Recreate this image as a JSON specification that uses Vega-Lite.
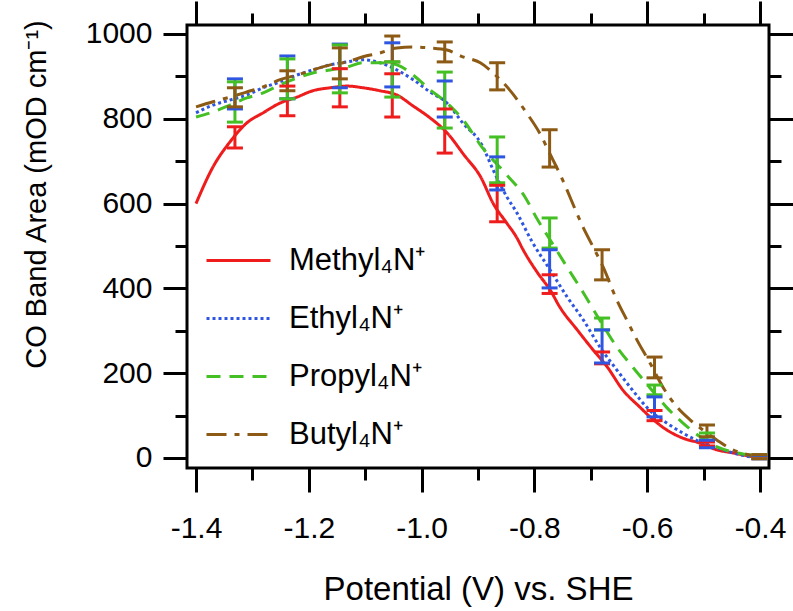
{
  "$schema": "https://vega.github.io/schema/vega-lite/v6.json",
  "width": 582,
  "height": 443,
  "autosize": "none",
  "padding": {"left": 187, "top": 25, "right": 24, "bottom": 143},
  "background": "white",
  "config": {
    "view": {"stroke": "black", "strokeWidth": 3},
    "font": "Liberation Sans",
    "axis": {"grid": false, "domain": false, "tickColor": "black", "tickWidth": 3, "labelColor": "black", "titleColor": "black", "labelFont": "Liberation Sans", "titleFont": "Liberation Sans", "titleFontWeight": "normal"}
  },
  "datasets": {
    "curves": [
      {"s": "Methyl₄N⁺", "v": -1.400, "a": 600}, {"s": "Methyl₄N⁺", "v": -1.370, "a": 686}, {"s": "Methyl₄N⁺", "v": -1.340, "a": 745}, {"s": "Methyl₄N⁺", "v": -1.310, "a": 790}, {"s": "Methyl₄N⁺", "v": -1.281, "a": 814}, {"s": "Methyl₄N⁺", "v": -1.251, "a": 837}, {"s": "Methyl₄N⁺", "v": -1.221, "a": 851}, {"s": "Methyl₄N⁺", "v": -1.193, "a": 866}, {"s": "Methyl₄N⁺", "v": -1.162, "a": 873}, {"s": "Methyl₄N⁺", "v": -1.132, "a": 877}, {"s": "Methyl₄N⁺", "v": -1.104, "a": 873}, {"s": "Methyl₄N⁺", "v": -1.074, "a": 866}, {"s": "Methyl₄N⁺", "v": -1.044, "a": 856}, {"s": "Methyl₄N⁺", "v": -1.015, "a": 830}, {"s": "Methyl₄N⁺", "v": -0.985, "a": 802}, {"s": "Methyl₄N⁺", "v": -0.955, "a": 767}, {"s": "Methyl₄N⁺", "v": -0.925, "a": 715}, {"s": "Methyl₄N⁺", "v": -0.895, "a": 662}, {"s": "Methyl₄N⁺", "v": -0.873, "a": 600}, {"s": "Methyl₄N⁺", "v": -0.849, "a": 554}, {"s": "Methyl₄N⁺", "v": -0.831, "a": 519}, {"s": "Methyl₄N⁺", "v": -0.820, "a": 491}, {"s": "Methyl₄N⁺", "v": -0.794, "a": 436}, {"s": "Methyl₄N⁺", "v": -0.772, "a": 396}, {"s": "Methyl₄N⁺", "v": -0.755, "a": 356}, {"s": "Methyl₄N⁺", "v": -0.724, "a": 302}, {"s": "Methyl₄N⁺", "v": -0.696, "a": 255}, {"s": "Methyl₄N⁺", "v": -0.671, "a": 215}, {"s": "Methyl₄N⁺", "v": -0.643, "a": 160}, {"s": "Methyl₄N⁺", "v": -0.613, "a": 120}, {"s": "Methyl₄N⁺", "v": -0.595, "a": 97}, {"s": "Methyl₄N⁺", "v": -0.565, "a": 66}, {"s": "Methyl₄N⁺", "v": -0.537, "a": 47}, {"s": "Methyl₄N⁺", "v": -0.506, "a": 35}, {"s": "Methyl₄N⁺", "v": -0.476, "a": 19}, {"s": "Methyl₄N⁺", "v": -0.448, "a": 12}, {"s": "Methyl₄N⁺", "v": -0.418, "a": 4}, {"s": "Methyl₄N⁺", "v": -0.400, "a": 0},
      {"s": "Ethyl₄N⁺", "v": -1.400, "a": 814}, {"s": "Ethyl₄N⁺", "v": -1.370, "a": 832}, {"s": "Ethyl₄N⁺", "v": -1.340, "a": 844}, {"s": "Ethyl₄N⁺", "v": -1.310, "a": 856}, {"s": "Ethyl₄N⁺", "v": -1.281, "a": 873}, {"s": "Ethyl₄N⁺", "v": -1.251, "a": 887}, {"s": "Ethyl₄N⁺", "v": -1.221, "a": 903}, {"s": "Ethyl₄N⁺", "v": -1.193, "a": 915}, {"s": "Ethyl₄N⁺", "v": -1.162, "a": 927}, {"s": "Ethyl₄N⁺", "v": -1.132, "a": 934}, {"s": "Ethyl₄N⁺", "v": -1.104, "a": 939}, {"s": "Ethyl₄N⁺", "v": -1.074, "a": 932}, {"s": "Ethyl₄N⁺", "v": -1.044, "a": 915}, {"s": "Ethyl₄N⁺", "v": -1.015, "a": 892}, {"s": "Ethyl₄N⁺", "v": -0.985, "a": 863}, {"s": "Ethyl₄N⁺", "v": -0.955, "a": 837}, {"s": "Ethyl₄N⁺", "v": -0.927, "a": 790}, {"s": "Ethyl₄N⁺", "v": -0.893, "a": 738}, {"s": "Ethyl₄N⁺", "v": -0.873, "a": 679}, {"s": "Ethyl₄N⁺", "v": -0.849, "a": 616}, {"s": "Ethyl₄N⁺", "v": -0.831, "a": 578}, {"s": "Ethyl₄N⁺", "v": -0.805, "a": 512}, {"s": "Ethyl₄N⁺", "v": -0.772, "a": 443}, {"s": "Ethyl₄N⁺", "v": -0.742, "a": 380}, {"s": "Ethyl₄N⁺", "v": -0.713, "a": 325}, {"s": "Ethyl₄N⁺", "v": -0.684, "a": 262}, {"s": "Ethyl₄N⁺", "v": -0.654, "a": 208}, {"s": "Ethyl₄N⁺", "v": -0.626, "a": 160}, {"s": "Ethyl₄N⁺", "v": -0.596, "a": 113}, {"s": "Ethyl₄N⁺", "v": -0.566, "a": 83}, {"s": "Ethyl₄N⁺", "v": -0.537, "a": 59}, {"s": "Ethyl₄N⁺", "v": -0.506, "a": 38}, {"s": "Ethyl₄N⁺", "v": -0.476, "a": 24}, {"s": "Ethyl₄N⁺", "v": -0.448, "a": 12}, {"s": "Ethyl₄N⁺", "v": -0.418, "a": 3}, {"s": "Ethyl₄N⁺", "v": -0.400, "a": 0},
      {"s": "Propyl₄N⁺", "v": -1.400, "a": 804}, {"s": "Propyl₄N⁺", "v": -1.370, "a": 816}, {"s": "Propyl₄N⁺", "v": -1.340, "a": 832}, {"s": "Propyl₄N⁺", "v": -1.310, "a": 849}, {"s": "Propyl₄N⁺", "v": -1.281, "a": 861}, {"s": "Propyl₄N⁺", "v": -1.251, "a": 880}, {"s": "Propyl₄N⁺", "v": -1.221, "a": 896}, {"s": "Propyl₄N⁺", "v": -1.193, "a": 908}, {"s": "Propyl₄N⁺", "v": -1.162, "a": 915}, {"s": "Propyl₄N⁺", "v": -1.132, "a": 922}, {"s": "Propyl₄N⁺", "v": -1.104, "a": 932}, {"s": "Propyl₄N⁺", "v": -1.074, "a": 932}, {"s": "Propyl₄N⁺", "v": -1.044, "a": 927}, {"s": "Propyl₄N⁺", "v": -1.015, "a": 903}, {"s": "Propyl₄N⁺", "v": -0.985, "a": 868}, {"s": "Propyl₄N⁺", "v": -0.955, "a": 837}, {"s": "Propyl₄N⁺", "v": -0.925, "a": 795}, {"s": "Propyl₄N⁺", "v": -0.893, "a": 733}, {"s": "Propyl₄N⁺", "v": -0.852, "a": 672}, {"s": "Propyl₄N⁺", "v": -0.817, "a": 616}, {"s": "Propyl₄N⁺", "v": -0.794, "a": 561}, {"s": "Propyl₄N⁺", "v": -0.772, "a": 514}, {"s": "Propyl₄N⁺", "v": -0.742, "a": 450}, {"s": "Propyl₄N⁺", "v": -0.713, "a": 389}, {"s": "Propyl₄N⁺", "v": -0.684, "a": 325}, {"s": "Propyl₄N⁺", "v": -0.654, "a": 262}, {"s": "Propyl₄N⁺", "v": -0.626, "a": 215}, {"s": "Propyl₄N⁺", "v": -0.596, "a": 167}, {"s": "Propyl₄N⁺", "v": -0.566, "a": 120}, {"s": "Propyl₄N⁺", "v": -0.537, "a": 83}, {"s": "Propyl₄N⁺", "v": -0.506, "a": 50}, {"s": "Propyl₄N⁺", "v": -0.476, "a": 26}, {"s": "Propyl₄N⁺", "v": -0.448, "a": 14}, {"s": "Propyl₄N⁺", "v": -0.418, "a": 7}, {"s": "Propyl₄N⁺", "v": -0.400, "a": 2},
      {"s": "Butyl₄N⁺", "v": -1.400, "a": 828}, {"s": "Butyl₄N⁺", "v": -1.370, "a": 840}, {"s": "Butyl₄N⁺", "v": -1.340, "a": 851}, {"s": "Butyl₄N⁺", "v": -1.310, "a": 863}, {"s": "Butyl₄N⁺", "v": -1.281, "a": 875}, {"s": "Butyl₄N⁺", "v": -1.251, "a": 892}, {"s": "Butyl₄N⁺", "v": -1.221, "a": 903}, {"s": "Butyl₄N⁺", "v": -1.193, "a": 915}, {"s": "Butyl₄N⁺", "v": -1.162, "a": 927}, {"s": "Butyl₄N⁺", "v": -1.132, "a": 934}, {"s": "Butyl₄N⁺", "v": -1.104, "a": 946}, {"s": "Butyl₄N⁺", "v": -1.074, "a": 955}, {"s": "Butyl₄N⁺", "v": -1.044, "a": 967}, {"s": "Butyl₄N⁺", "v": -1.015, "a": 969}, {"s": "Butyl₄N⁺", "v": -0.985, "a": 967}, {"s": "Butyl₄N⁺", "v": -0.955, "a": 962}, {"s": "Butyl₄N⁺", "v": -0.927, "a": 946}, {"s": "Butyl₄N⁺", "v": -0.896, "a": 932}, {"s": "Butyl₄N⁺", "v": -0.866, "a": 899}, {"s": "Butyl₄N⁺", "v": -0.844, "a": 868}, {"s": "Butyl₄N⁺", "v": -0.814, "a": 814}, {"s": "Butyl₄N⁺", "v": -0.791, "a": 767}, {"s": "Butyl₄N⁺", "v": -0.773, "a": 719}, {"s": "Butyl₄N⁺", "v": -0.750, "a": 656}, {"s": "Butyl₄N⁺", "v": -0.725, "a": 578}, {"s": "Butyl₄N⁺", "v": -0.714, "a": 545}, {"s": "Butyl₄N⁺", "v": -0.696, "a": 498}, {"s": "Butyl₄N⁺", "v": -0.678, "a": 450}, {"s": "Butyl₄N⁺", "v": -0.654, "a": 373}, {"s": "Butyl₄N⁺", "v": -0.636, "a": 325}, {"s": "Butyl₄N⁺", "v": -0.618, "a": 278}, {"s": "Butyl₄N⁺", "v": -0.595, "a": 224}, {"s": "Butyl₄N⁺", "v": -0.572, "a": 167}, {"s": "Butyl₄N⁺", "v": -0.547, "a": 120}, {"s": "Butyl₄N⁺", "v": -0.524, "a": 90}, {"s": "Butyl₄N⁺", "v": -0.501, "a": 66}, {"s": "Butyl₄N⁺", "v": -0.476, "a": 42}, {"s": "Butyl₄N⁺", "v": -0.448, "a": 19}, {"s": "Butyl₄N⁺", "v": -0.418, "a": 7}, {"s": "Butyl₄N⁺", "v": -0.400, "a": 2}
    ],
    "bars": [
      {"s": "Methyl₄N⁺", "v": -1.331, "lo": 731, "hi": 781}, {"s": "Methyl₄N⁺", "v": -1.238, "lo": 807, "hi": 877}, {"s": "Methyl₄N⁺", "v": -1.145, "lo": 828, "hi": 918}, {"s": "Methyl₄N⁺", "v": -1.052, "lo": 804, "hi": 906}, {"s": "Methyl₄N⁺", "v": -0.959, "lo": 719, "hi": 823}, {"s": "Methyl₄N⁺", "v": -0.866, "lo": 557, "hi": 643}, {"s": "Methyl₄N⁺", "v": -0.773, "lo": 388, "hi": 432}, {"s": "Methyl₄N⁺", "v": -0.680, "lo": 222, "hi": 250}, {"s": "Methyl₄N⁺", "v": -0.587, "lo": 88, "hi": 112}, {"s": "Methyl₄N⁺", "v": -0.494, "lo": 28, "hi": 38}, {"s": "Methyl₄N⁺", "v": -0.401, "lo": -1, "hi": 5},
      {"s": "Ethyl₄N⁺", "v": -1.331, "lo": 823, "hi": 894}, {"s": "Ethyl₄N⁺", "v": -1.238, "lo": 847, "hi": 948}, {"s": "Ethyl₄N⁺", "v": -1.145, "lo": 873, "hi": 976}, {"s": "Ethyl₄N⁺", "v": -1.052, "lo": 875, "hi": 979}, {"s": "Ethyl₄N⁺", "v": -0.959, "lo": 804, "hi": 889}, {"s": "Ethyl₄N⁺", "v": -0.866, "lo": 632, "hi": 710}, {"s": "Ethyl₄N⁺", "v": -0.773, "lo": 401, "hi": 491}, {"s": "Ethyl₄N⁺", "v": -0.680, "lo": 224, "hi": 302}, {"s": "Ethyl₄N⁺", "v": -0.587, "lo": 97, "hi": 144}, {"s": "Ethyl₄N⁺", "v": -0.494, "lo": 24, "hi": 42}, {"s": "Ethyl₄N⁺", "v": -0.401, "lo": -2, "hi": 6},
      {"s": "Propyl₄N⁺", "v": -1.331, "lo": 792, "hi": 887}, {"s": "Propyl₄N⁺", "v": -1.238, "lo": 847, "hi": 941}, {"s": "Propyl₄N⁺", "v": -1.145, "lo": 861, "hi": 974}, {"s": "Propyl₄N⁺", "v": -1.052, "lo": 851, "hi": 934}, {"s": "Propyl₄N⁺", "v": -0.959, "lo": 778, "hi": 910}, {"s": "Propyl₄N⁺", "v": -0.866, "lo": 649, "hi": 757}, {"s": "Propyl₄N⁺", "v": -0.773, "lo": 495, "hi": 566}, {"s": "Propyl₄N⁺", "v": -0.680, "lo": 302, "hi": 330}, {"s": "Propyl₄N⁺", "v": -0.587, "lo": 149, "hi": 172}, {"s": "Propyl₄N⁺", "v": -0.494, "lo": 42, "hi": 59}, {"s": "Propyl₄N⁺", "v": -0.401, "lo": 0, "hi": 8},
      {"s": "Butyl₄N⁺", "v": -1.331, "lo": 828, "hi": 873}, {"s": "Butyl₄N⁺", "v": -1.238, "lo": 866, "hi": 913}, {"s": "Butyl₄N⁺", "v": -1.145, "lo": 894, "hi": 967}, {"s": "Butyl₄N⁺", "v": -1.052, "lo": 934, "hi": 995}, {"s": "Butyl₄N⁺", "v": -0.959, "lo": 934, "hi": 981}, {"s": "Butyl₄N⁺", "v": -0.866, "lo": 868, "hi": 932}, {"s": "Butyl₄N⁺", "v": -0.773, "lo": 686, "hi": 774}, {"s": "Butyl₄N⁺", "v": -0.680, "lo": 420, "hi": 491}, {"s": "Butyl₄N⁺", "v": -0.587, "lo": 189, "hi": 238}, {"s": "Butyl₄N⁺", "v": -0.494, "lo": 50, "hi": 78}, {"s": "Butyl₄N⁺", "v": -0.401, "lo": -2, "hi": 8}
    ]
  },
  "resolve": {"axis": {"x": "independent", "y": "independent"}},
  "layer": [
    {
      "data": {"name": "curves"},
      "mark": {"type": "line", "strokeWidth": 3, "interpolate": "monotone"},
      "encoding": {
        "x": {"field": "v", "type": "quantitative", "scale": {"domain": [-1.416, -0.384], "nice": false, "zero": false},
          "axis": {"orient": "bottom", "values": [-1.4, -1.2, -1.0, -0.8, -0.6, -0.4], "labelExpr": "(datum.value < 0 ? '-' : '') + format(abs(datum.value), '.1f')", "tickSize": 24, "labelFontSize": 30, "labelPadding": 21, "labelFlush": false, "title": "Potential (V) vs. SHE", "titleFontSize": 33, "titleX": 291, "titleY": 131, "titleBaseline": "alphabetic", "titleAlign": "center"}},
        "y": {"field": "a", "type": "quantitative", "scale": {"domain": [-23.6, 1021], "nice": false, "zero": false},
          "axis": {"orient": "left", "values": [0, 200, 400, 600, 800, 1000], "format": "d", "tickSize": 24, "labelFontSize": 30, "labelPadding": 11, "labelFlush": false, "title": "CO Band Area (mOD cm⁻¹)", "titleFontSize": 29, "titleAngle": -90, "titleX": -142, "titleY": 169, "titleBaseline": "alphabetic", "titleAlign": "center"}},
        "color": {"field": "s", "type": "nominal", "sort": null,
          "scale": {"domain": ["Methyl₄N⁺", "Ethyl₄N⁺", "Propyl₄N⁺", "Butyl₄N⁺"], "range": ["#ee1c1c", "#2f56e0", "#45c024", "#8c5a14"]},
          "legend": {"orient": "none", "legendX": 18, "legendY": 202, "title": null, "symbolType": "stroke", "symbolSize": 4096, "symbolStrokeWidth": 3, "labelFontSize": 31, "labelFont": "Liberation Sans", "labelColor": "black", "labelOffset": 17, "rowPadding": 9, "padding": 0, "labelLimit": 400}},
        "strokeDash": {"field": "s", "type": "nominal", "sort": null,
          "scale": {"domain": ["Methyl₄N⁺", "Ethyl₄N⁺", "Propyl₄N⁺", "Butyl₄N⁺"], "range": [[1, 0], [3, 3], [14, 9], [20, 8, 5, 8]]},
          "legend": {"orient": "none", "legendX": 18, "legendY": 202, "title": null, "symbolType": "stroke", "symbolSize": 4096, "symbolStrokeWidth": 3, "labelFontSize": 31, "labelFont": "Liberation Sans", "labelColor": "black", "labelOffset": 17, "rowPadding": 9, "padding": 0, "labelLimit": 400}}
      }
    },
    {
      "data": {"name": "bars"},
      "mark": {"type": "rule", "strokeWidth": 3, "opacity": 1},
      "encoding": {
        "x": {"field": "v", "type": "quantitative", "axis": {"orient": "bottom", "values": [-1.3, -1.1, -0.9, -0.7, -0.5], "tickSize": 12, "labels": false, "title": null}},
        "y": {"field": "lo", "type": "quantitative", "axis": {"orient": "left", "values": [100, 300, 500, 700, 900], "tickSize": 12, "labels": false, "title": null}},
        "y2": {"field": "hi"},
        "color": {"field": "s", "type": "nominal", "legend": null}
      }
    },
    {
      "data": {"name": "bars"},
      "mark": {"type": "tick", "orient": "horizontal", "size": 16, "thickness": 3, "opacity": 1},
      "encoding": {
        "x": {"field": "v", "type": "quantitative", "axis": {"orient": "top", "values": [-1.4, -1.2, -1.0, -0.8, -0.6, -0.4], "tickSize": 24, "labels": false, "title": null}},
        "y": {"field": "lo", "type": "quantitative", "axis": {"orient": "right", "values": [0, 200, 400, 600, 800, 1000], "tickSize": 24, "labels": false, "title": null}},
        "color": {"field": "s", "type": "nominal", "legend": null}
      }
    },
    {
      "data": {"name": "bars"},
      "mark": {"type": "tick", "orient": "horizontal", "size": 16, "thickness": 3, "opacity": 1},
      "encoding": {
        "x": {"field": "v", "type": "quantitative", "axis": {"orient": "top", "values": [-1.3, -1.1, -0.9, -0.7, -0.5], "tickSize": 12, "labels": false, "title": null}},
        "y": {"field": "hi", "type": "quantitative", "axis": {"orient": "right", "values": [100, 300, 500, 700, 900], "tickSize": 12, "labels": false, "title": null}},
        "color": {"field": "s", "type": "nominal", "legend": null}
      }
    }
  ]
}
